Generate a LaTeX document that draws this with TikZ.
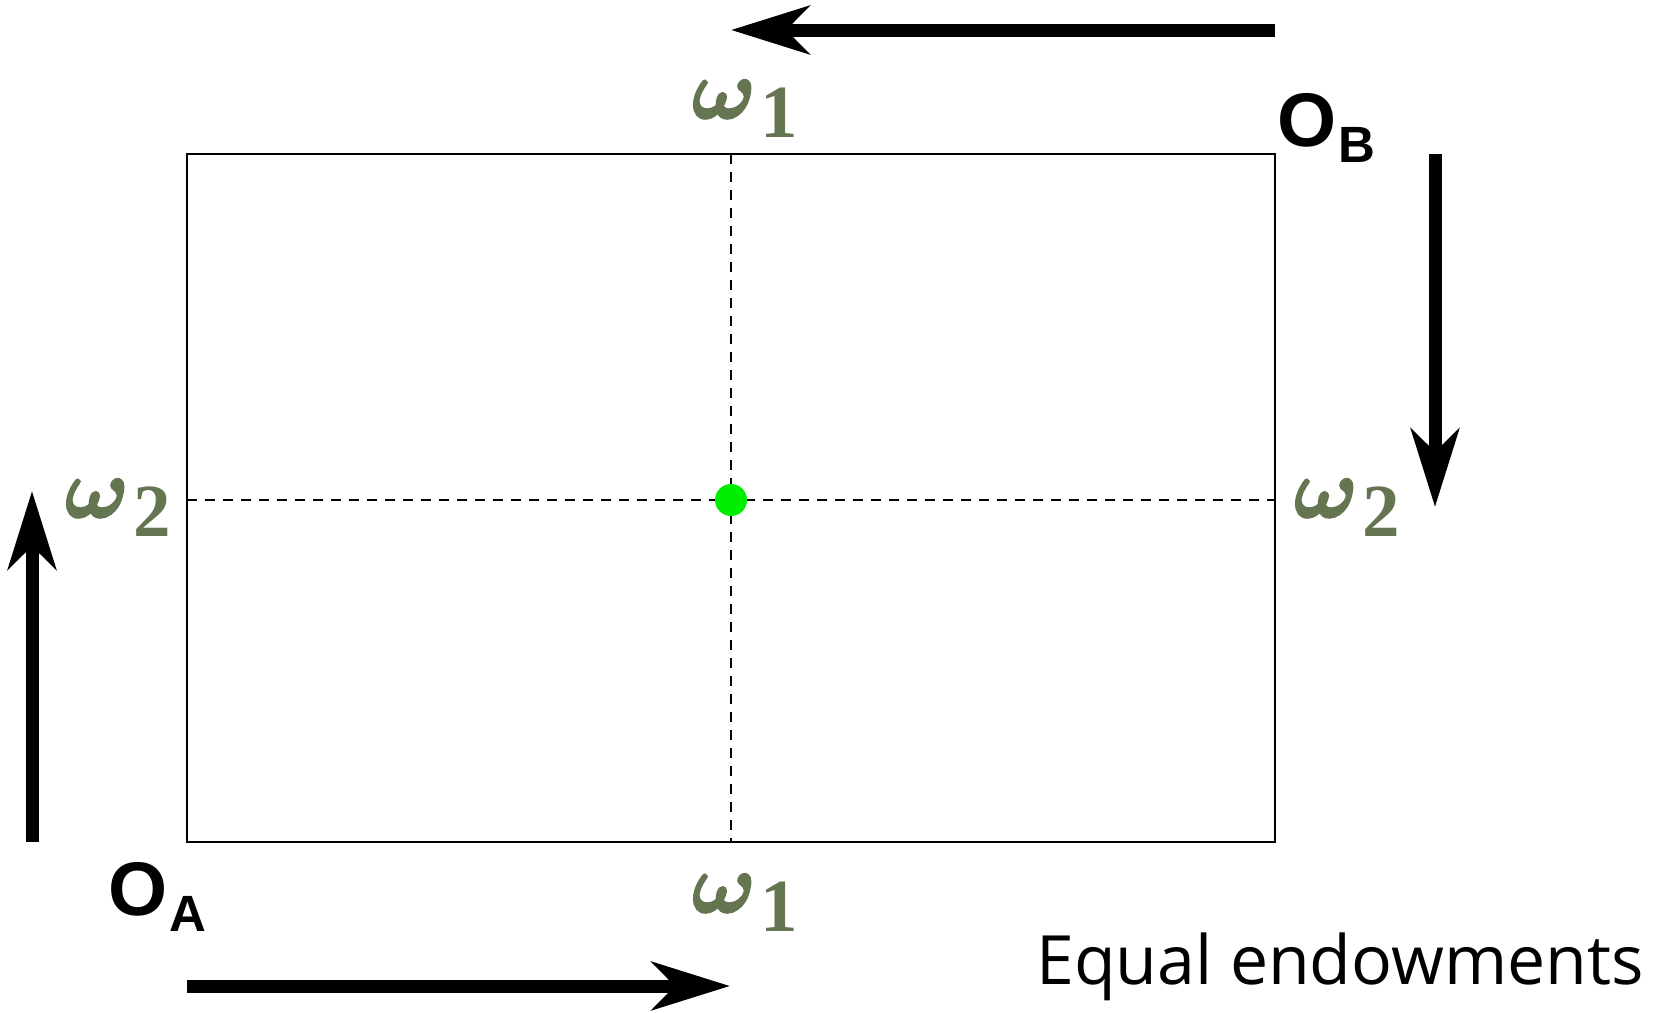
\RequirePackage{fix-cm}
\documentclass[tikz,border=0pt]{standalone}
\usepackage{fontspec}
\setmainfont{Liberation Serif}
\newfontfamily\omfont{Liberation Serif}
\newfontfamily\orifont{Liberation Sans}
\newfontfamily\notefont{Open Sans}
\usetikzlibrary{arrows.meta}
\definecolor{omcol}{RGB}{101,117,82}
\definecolor{dotgreen}{RGB}{0,238,0}
\newcommand{\thickglyph}[1]{\special{pdf:literal direct 2 Tr 2.2 w}#1\special{pdf:literal direct 0 Tr}}
\newcommand{\omlab}[1]{{\color{omcol}\fontsize{84}{100}\selectfont\boldmath\thickglyph{$\omega$}\hspace{5pt}\raisebox{-19pt}{\omfont\bfseries\fontsize{75}{90}\selectfont #1}}}
\newcommand{\orilab}[1]{{\orifont\bfseries\fontsize{76}{90}\selectfont O\hspace{2pt}\raisebox{-16pt}{\fontsize{51}{60}\selectfont #1}}}
\tikzset{
  bigarrow/.style={line width=13pt, -{Stealth[length=78pt,width=48pt,inset=23pt]}},
  frame/.style={line width=2pt},
  guide/.style={line width=1.8pt, dash pattern=on 10pt off 8pt},
  lab/.style={inner sep=0pt, anchor=base west}
}
\begin{document}
\begin{tikzpicture}[x=1pt,y=-1pt]
\useasboundingbox (0,0) rectangle (1656,1012);
% box corners
\coordinate (bl) at (187,842);
\coordinate (tr) at (1275,154);
\coordinate (tm) at (731,154);
\coordinate (bm) at (731,842);
\coordinate (lm) at (187,500);
\coordinate (rm) at (1275,500);
\draw[frame] (bl) rectangle (tr);
\draw[guide] (tm) -- (bm);
\draw[guide] (lm) -- (rm);
\node[circle, fill=dotgreen, inner sep=0pt, minimum size=32pt] (E) at (731,500) {};
% arrows
\coordinate (ta1) at (1275,30);
\coordinate (ta2) at (731,30);
\coordinate (ra1) at (1435,154);
\coordinate (ra2) at (1435,507);
\coordinate (la1) at (32,842);
\coordinate (la2) at (32,491);
\coordinate (ba1) at (187,986);
\coordinate (ba2) at (730,986);
\draw[bigarrow] (ta1) -- (ta2);
\draw[bigarrow] (ra1) -- (ra2);
\draw[bigarrow] (la1) -- (la2);
\draw[bigarrow] (ba1) -- (ba2);
% labels
\node[lab] (w1t) at (692,118) {\omlab{1}};
\node[lab] (w1b) at (692,912) {\omlab{1}};
\node[lab] (w2l) at (65,517) {\omlab{2}};
\node[lab] (w2r) at (1294,517) {\omlab{2}};
\node[lab] (OB) at (1277,146) {\orilab{B}};
\node[lab] (OA) at (108,915) {\orilab{A}};
\node[lab] (note) at (1036,984) {\notefont\fontsize{68}{80}\selectfont Equal endowments};
\end{tikzpicture}
\end{document}
